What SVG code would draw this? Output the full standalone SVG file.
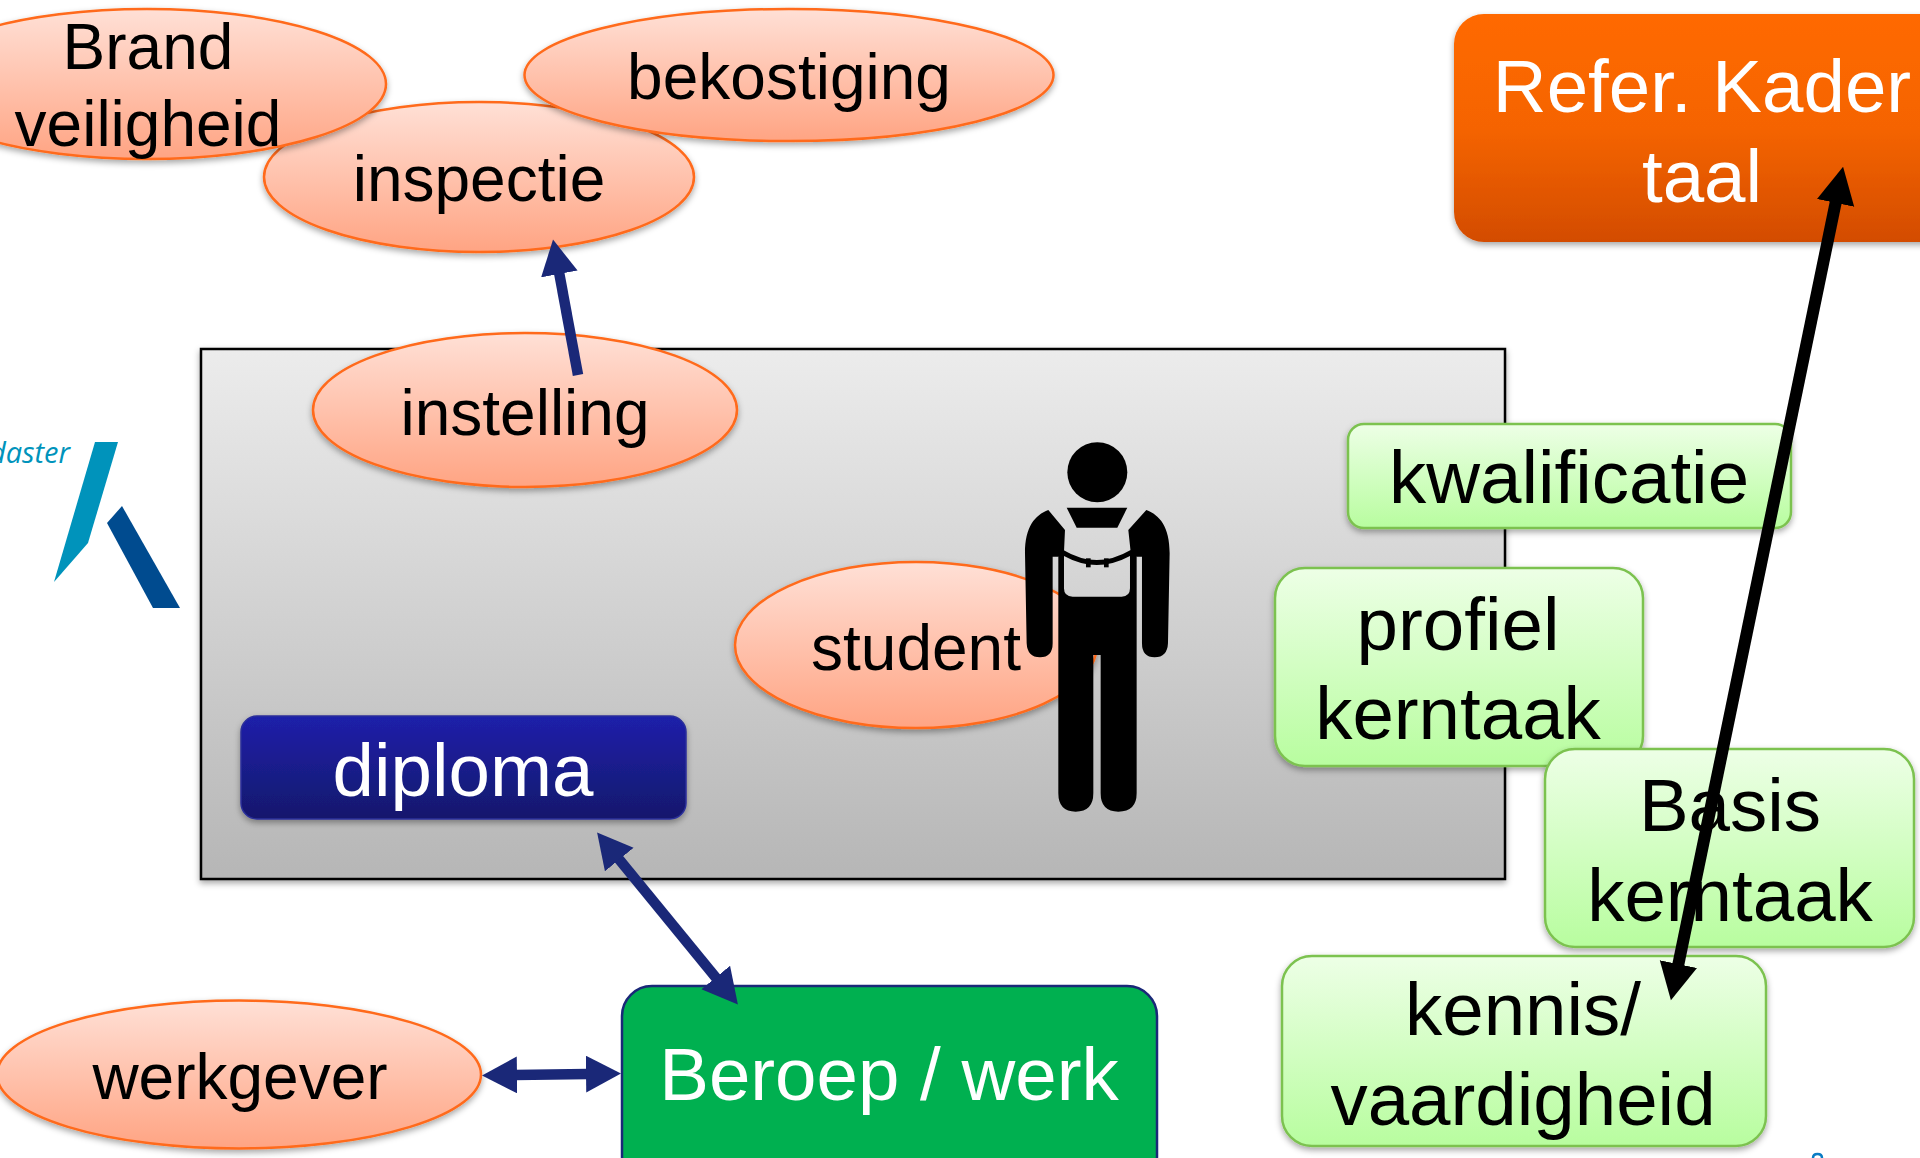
<svg xmlns="http://www.w3.org/2000/svg" width="1920" height="1158" viewBox="0 0 1920 1158">
<defs>
<linearGradient id="gEll" x1="0" y1="0" x2="0" y2="1"><stop offset="0" stop-color="#ffe0d6"/><stop offset="1" stop-color="#ffa483"/></linearGradient>
<linearGradient id="gGreen" x1="0" y1="0" x2="0" y2="1"><stop offset="0" stop-color="#edffe6"/><stop offset="1" stop-color="#b8fd9f"/></linearGradient>
<linearGradient id="gOrange" x1="0" y1="0" x2="0" y2="1"><stop offset="0" stop-color="#ff6900"/><stop offset="0.5" stop-color="#f56400"/><stop offset="1" stop-color="#d34c00"/></linearGradient>
<linearGradient id="gBlue" x1="0" y1="0" x2="0" y2="1"><stop offset="0" stop-color="#1e20aa"/><stop offset="1" stop-color="#15186c"/></linearGradient>
<linearGradient id="gGray" x1="0" y1="0" x2="0" y2="1"><stop offset="0" stop-color="#ececec"/><stop offset="1" stop-color="#b6b6b6"/></linearGradient>
<filter id="sh" x="-10%" y="-10%" width="120%" height="125%"><feDropShadow dx="0" dy="3" stdDeviation="3" flood-color="#000" flood-opacity="0.35"/></filter>
<marker id="hBlue" markerUnits="userSpaceOnUse" markerWidth="38" markerHeight="38" refX="2" refY="18.500" orient="auto-start-reverse"><path d="M0 0L35 18.500L0 37Z" fill="#1a2878"/></marker>
<marker id="hBlack" markerUnits="userSpaceOnUse" markerWidth="40" markerHeight="40" refX="2" refY="19" orient="auto-start-reverse"><path d="M0 0L37 19L0 38Z" fill="#000"/></marker>
</defs>
<style>
text{font-family:"Liberation Sans",Arial,sans-serif;text-anchor:middle}
.t{font-size:64px;fill:#000}
.b{font-size:74.500px;fill:#000}
.w{font-size:74.500px;fill:#fff}
.e{fill:url(#gEll);stroke:#ff6a1a;stroke-width:2.500;filter:url(#sh)}
.g{fill:url(#gGreen);stroke:#7cc250;stroke-width:2.500;filter:url(#sh)}
.c1{stroke:#1a2878;stroke-width:10.500;fill:none}
.c2{stroke:#000;stroke-width:12;fill:none}
</style>
<rect width="1920" height="1158" fill="#fff"/>
<g id="logo">
<text x="70" y="463" style="text-anchor:end;font-family:'Open Sans',sans-serif;font-size:29px;font-style:italic;fill:#0093bb">daster</text>
<path d="M95 442H118L88 543L54 582Z" fill="#0093bb"/>
<path d="M122 506L180 608H153L107 523Z" fill="#004b8f"/>
</g>
<g id="kader"><rect x="201" y="349" width="1304" height="530" fill="url(#gGray)" stroke="#000" stroke-width="2.500" filter="url(#sh)"/></g>
<g id="n-inspectie"><ellipse class="e" cx="479" cy="177" rx="215" ry="75"/><text class="t" x="479" y="201">inspectie</text></g>
<g id="n-brand"><ellipse class="e" cx="147" cy="84" rx="239" ry="75"/><text class="t" x="148" y="69">Brand</text><text class="t" x="148" y="146">veiligheid</text></g>
<g id="n-bekostiging"><ellipse class="e" cx="789" cy="75" rx="264.500" ry="66"/><text class="t" x="789" y="99">bekostiging</text></g>
<g id="n-instelling"><ellipse class="e" cx="525" cy="410" rx="212" ry="77"/><text class="t" x="525" y="435">instelling</text></g>
<g id="n-student"><ellipse class="e" cx="916" cy="645" rx="181" ry="83"/><text class="t" x="916" y="670">student</text></g>
<g id="n-persoon" transform="translate(980 420) scale(0.3333)">
<circle cx="352" cy="157" r="90"/>
<path d="M260 263H442L412 323H290Z"/>
<path d="M205 270C165 285 135 320 135 400L140 670Q142 712 180 712Q218 712 218 670V410H235L252 395L255 330Z"/>
<path d="M499 270C539 285 569 320 569 400L564 670Q562 712 524 712Q486 712 486 670V410H470L452 395L445 330Z"/>
<path fill-rule="evenodd" d="M235 405L250 390Q350 450 452 390L470 405V1120Q470 1175 415 1175Q362 1175 362 1120V705H340V1120Q340 1175 287 1175Q235 1175 235 1120ZM252 408Q350 462 450 408V505Q450 530 425 530H278Q252 530 252 505Z"/>
<rect x="318" y="415" width="14" height="27"/><rect x="372" y="415" width="14" height="27"/>
</g>
<g id="n-diploma"><rect x="241" y="716" width="445" height="103" rx="16" fill="url(#gBlue)" stroke="#2b2f9a" stroke-width="1.500" filter="url(#sh)"/><text class="w" x="463" y="796">diploma</text></g>
<g id="n-werkgever"><ellipse class="e" cx="239" cy="1074.500" rx="242" ry="74"/><text class="t" x="240" y="1099">werkgever</text></g>
<g id="n-beroep"><rect x="622" y="986" width="535" height="200" rx="30" fill="#00b050" stroke="#1a2878" stroke-width="2.500"/><text class="w" x="889" y="1100">Beroep / werk</text></g>
<g id="n-refer"><rect x="1454" y="14" width="520" height="228" rx="30" fill="url(#gOrange)" filter="url(#sh)"/><text class="w" x="1702" y="112">Refer. Kader</text><text class="w" x="1702" y="202">taal</text></g>
<g id="n-kwalificatie"><rect class="g" x="1348" y="424" width="443" height="104" rx="16"/><text class="b" x="1569" y="503">kwalificatie</text></g>
<g id="n-profiel"><rect class="g" x="1275" y="568" width="368" height="198" rx="30"/><text class="b" x="1458" y="650">profiel</text><text class="b" x="1458" y="739">kerntaak</text></g>
<g id="n-basis"><rect class="g" x="1545" y="749" width="369" height="198" rx="30"/><text class="b" x="1730" y="831">Basis</text><text class="b" x="1730" y="921">kerntaak</text></g>
<g id="n-kennis"><rect class="g" x="1282" y="956" width="484" height="190" rx="30"/><text class="b" x="1523" y="1035">kennis/</text><text class="b" x="1523" y="1125">vaardigheid</text></g>
<path id="paginamerk" d="M1813 1158Q1813 1154 1817.500 1154Q1822 1154 1822 1158" fill="none" stroke="#0a7cc4" stroke-width="2.500"/>
<g id="connectors">
<line class="c1" x1="578" y1="375" x2="559" y2="272" marker-end="url(#hBlue)"/>
<line class="c1" x1="618" y1="858" x2="717" y2="979" marker-start="url(#hBlue)" marker-end="url(#hBlue)"/>
<line class="c1" x1="515" y1="1075" x2="588" y2="1074" marker-start="url(#hBlue)" marker-end="url(#hBlue)"/>
<line class="c2" x1="1678" y1="966" x2="1836" y2="201" marker-start="url(#hBlack)" marker-end="url(#hBlack)"/>
</g>
</svg>
